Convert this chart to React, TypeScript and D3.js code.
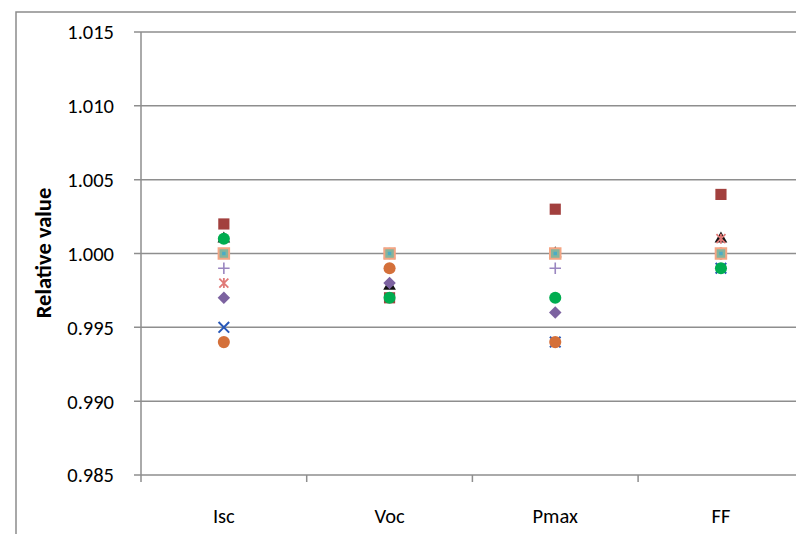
import React from 'react'
import * as d3 from 'd3'

// categories and y ticks
const categories = ['Isc', 'Voc', 'Pmax', 'FF']
const yTicks = [0.985, 0.99, 0.995, 1.0, 1.005, 1.01, 1.015]

// series values (Isc, Voc, Pmax, FF)
const blueX = [0.995, 1.0, 0.994, 0.999]
const blackTriangle = [1.001, 0.9978, 1.0, 1.001]
const redSquare = [1.002, 0.997, 1.003, 1.004]
const purpleDiamond = [0.997, 0.998, 0.996, 1.0]
const pinkStar = [0.998, 1.0, 1.0, 1.001]
const lilacPlus = [0.999, 1.0, 0.999, 1.0]
const orangeCircle = [0.994, 0.999, 0.994, 1.0]
const greenCircle = [1.001, 0.997, 0.997, 0.999]
const peachSquare = [1.0, 1.0, 1.0, 1.0]
const aquaMark = [1.0, 1.0, 1.0, 1.0]

const W = 796
const H = 534
const left = 141
const top = 32
const bottom = 475
const bandW = 165.7

const font = 'Carlito, Calibri, "Liberation Sans", sans-serif'

const x = d3.scaleBand().domain(categories).range([left, left + bandW * 4])
const y = d3.scaleLinear().domain([0.985, 1.015]).range([bottom, top])

const sym = (type: d3.SymbolType, size: number) => d3.symbol().type(type).size(size)() || ''
const starPath = 'M-4.5,-4.5L4.5,4.5M-4.5,4.5L4.5,-4.5M0,-5L0,5'

type Series = {
  name: string
  values: number[]
  path: string
  fill: string
  stroke: string
  sw: number
  rot?: number
}

const series: Series[] = [
  { name: 'blueX', values: blueX, path: sym(d3.symbolTimes, 75), fill: 'none', stroke: '#2757b8', sw: 2 },
  { name: 'blackTriangle', values: blackTriangle, path: sym(d3.symbolTriangle, 70), fill: '#111', stroke: 'none', sw: 0 },
  { name: 'redSquare', values: redSquare, path: sym(d3.symbolSquare, 125), fill: '#a2403e', stroke: 'none', sw: 0 },
  { name: 'purpleDiamond', values: purpleDiamond, path: sym(d3.symbolSquare, 78), fill: '#7c62a0', stroke: 'none', sw: 0, rot: 45 },
  { name: 'pinkStar', values: pinkStar, path: starPath, fill: 'none', stroke: '#e07a78', sw: 1.8 },
  { name: 'lilacPlus', values: lilacPlus, path: sym(d3.symbolPlus, 45), fill: 'none', stroke: '#9a86c0', sw: 1.6 },
  { name: 'orangeCircle', values: orangeCircle, path: sym(d3.symbolCircle, 115), fill: '#d4703a', stroke: 'none', sw: 0 },
  { name: 'greenCircle', values: greenCircle, path: sym(d3.symbolCircle, 115), fill: '#00ad50', stroke: 'none', sw: 0 },
  { name: 'peachSquare', values: peachSquare, path: sym(d3.symbolSquare, 110), fill: '#86b49c', stroke: '#f4a583', sw: 2 },
  { name: 'aquaMark', values: aquaMark, path: sym(d3.symbolSquare, 12), fill: '#4bacc6', stroke: 'none', sw: 0 },
]

export default function App() {
  return (
    <svg width={W} height={H} style={{ position: 'absolute', left: 0, top: 0, background: '#fff' }}>
      {/* chart border */}
      <path d={`M16,${H}V12H${W}`} fill="none" stroke="#8c8c8c" strokeWidth={1.5} />

      {/* gridlines + y ticks */}
      {yTicks.map((t) => (
        <g key={t}>
          <line x1={left - 7} x2={W} y1={y(t)} y2={y(t)} stroke="#8e8e8e" strokeWidth={1.5} />
          <text x={114} y={y(t)} dy="0.36em" textAnchor="end" fontFamily={font} fontSize={20.5} fill="#000">
            {d3.format('.3f')(t)}
          </text>
        </g>
      ))}

      {/* y axis */}
      <line x1={left} x2={left} y1={top} y2={bottom} stroke="#8e8e8e" strokeWidth={1.5} />

      {/* x ticks + labels */}
      {categories.map((c) => (
        <g key={c}>
          <line x1={x(c)!} x2={x(c)!} y1={bottom} y2={bottom + 7} stroke="#8e8e8e" strokeWidth={1.5} />
          <text x={x(c)! + x.bandwidth() / 2} y={523} textAnchor="middle" fontFamily={font} fontSize={20.5} fill="#000">
            {c}
          </text>
        </g>
      ))}

      <text
        transform={`translate(51,253) rotate(-90)`}
        textAnchor="middle"
        fontFamily={font}
        fontSize={22.5}
        fontWeight="bold"
        fill="#000"
      >
        Relative value
      </text>

      {/* markers */}
      {series.map((s) => (
        <g key={s.name}>
          {s.values.map((v, i) => (
            <path
              key={i}
              d={s.path}
              transform={`translate(${x(categories[i])! + x.bandwidth() / 2},${y(v)})${s.rot ? ` rotate(${s.rot})` : ''}`}
              fill={s.fill}
              stroke={s.stroke}
              strokeWidth={s.sw}
            />
          ))}
        </g>
      ))}
    </svg>
  )
}
